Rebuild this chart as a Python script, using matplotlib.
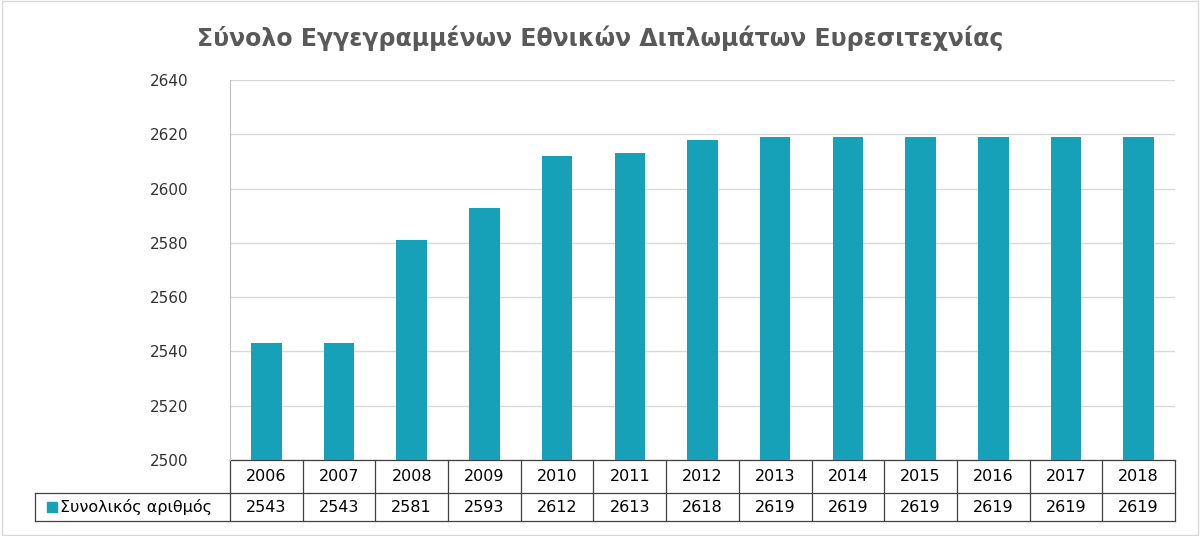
import matplotlib
matplotlib.use('Agg')
import matplotlib.pyplot as plt
from matplotlib.transforms import blended_transform_factory

# data
years = ['2006', '2007', '2008', '2009', '2010', '2011', '2012',
         '2013', '2014', '2015', '2016', '2017', '2018']
totals = [2543, 2543, 2581, 2593, 2612, 2613, 2618,
          2619, 2619, 2619, 2619, 2619, 2619]
series_name = 'Συνολικός αριθμός'
yticks = list(range(2500, 2641, 20))

BAR = '#17A1B9'
GRID = '#D9D9D9'
TXT = '#000000'

plt.rcParams['font.family'] = 'DejaVu Sans'
fig = plt.figure(figsize=(12, 5.36), dpi=100)
ax = fig.add_axes([230 / 1200, 1 - 460 / 536, 945 / 1200, 380 / 536])

x = list(range(len(years)))
ax.bar(x, [v - 2500 for v in totals], bottom=2500, width=0.42, color=BAR, zorder=3)
ax.set_xlim(-0.5, len(years) - 0.5)
ax.set_ylim(2500, 2640)
ax.set_yticks(yticks)
ax.set_yticklabels([str(t) for t in yticks], fontsize=11, color='#333333')
ax.yaxis.grid(True, color=GRID, lw=1, zorder=0)
ax.set_xticks([])
ax.tick_params(axis='y', length=0, pad=30)
for s in ['top', 'right', 'bottom']:
    ax.spines[s].set_visible(False)
ax.spines['left'].set_color('#BFBFBF')

# data table below the axes
tr = blended_transform_factory(ax.transData, ax.transAxes)
h = 380.0
y0, y1, y2 = 0, -33 / h, -61 / h
xl = -0.5 - 195 / 72.7
xr = len(years) - 0.5
kw = dict(color='#404040', lw=0.9, transform=tr, clip_on=False)
ax.plot([-0.5, xr], [y0, y0], **kw)
ax.plot([xl, xr], [y1, y1], **kw)
ax.plot([xl, xr], [y2, y2], **kw)
ax.plot([xl, xl], [y1, y2], **kw)
for i in range(len(years) + 1):
    ax.plot([i - 0.5, i - 0.5], [y0, y2], **kw)
for i, (yr, v) in enumerate(zip(years, totals)):
    ax.text(i, (y0 + y1) / 2, yr, transform=tr, ha='center', va='center',
            fontsize=11.5, color=TXT)
    ax.text(i, (y1 + y2) / 2, str(v), transform=tr, ha='center', va='center',
            fontsize=11.5, color=TXT)
ax.add_patch(plt.Rectangle((xl + 12 / 72.7, (y1 + y2) / 2 - 5 / h), 10 / 72.7, 10 / h,
                           color=BAR, transform=tr, clip_on=False))
ax.text(xl + 25 / 72.7, (y1 + y2) / 2, series_name, transform=tr, ha='left',
        va='center', fontsize=11.5, color=TXT)

fig.text(600 / 1200, 1 - 38 / 536, 'Σύνολο Εγγεγραμμένων Εθνικών Διπλωμάτων Ευρεσιτεχνίας',
         ha='center', va='center', fontsize=17, fontweight='bold', color='#595959')
fig.patches.append(plt.Rectangle((0.002, 0.002), 0.996, 0.996, transform=fig.transFigure,
                                 fill=False, edgecolor='#D9D9D9', lw=1))
fig.savefig('out.png', dpi=100)
